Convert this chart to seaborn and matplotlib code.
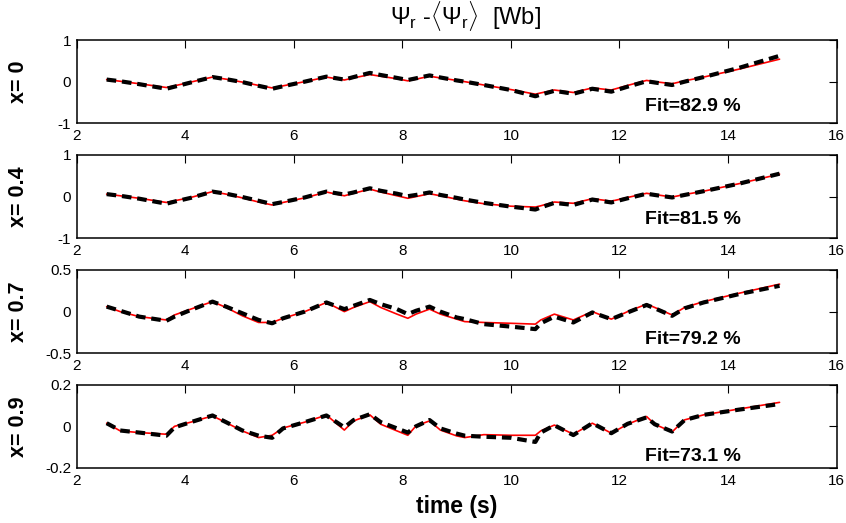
import matplotlib
matplotlib.use("Agg")
import matplotlib.pyplot as plt
import seaborn as sns
import pandas as pd

# ---------------- data ----------------
time = [2.55, 2.8, 3.15, 3.65, 3.8, 4.1, 4.5, 4.75, 5.05, 5.35, 5.6, 5.8, 6.2, 6.6,
        6.93, 7.1, 7.4, 7.6, 7.9, 8.1, 8.25, 8.5, 8.7, 9.0, 9.15, 9.5, 10.0, 10.45,
        10.55, 10.8, 11.15, 11.5, 11.85, 12.15, 12.5, 12.65, 12.97, 13.2, 13.55, 14.2, 14.95]

meas_x0 = [0.05, 0.01, -0.06, -0.17, -0.12, -0.02, 0.11, 0.06, -0.01, -0.10, -0.17, -0.11, 0.0, 0.12,
           0.05, 0.11, 0.21, 0.16, 0.09, 0.04, 0.08, 0.15, 0.10, 0.03, 0.0, -0.08, -0.20, -0.35,
           -0.31, -0.22, -0.29, -0.17, -0.24, -0.12, 0.01, -0.02, -0.08, 0.0, 0.11, 0.33, 0.62]
model_x0 = [0.05, 0.01, -0.05, -0.14, -0.10, -0.01, 0.11, 0.06, -0.01, -0.09, -0.15, -0.10, 0.0, 0.11,
            0.04, 0.09, 0.17, 0.13, 0.07, 0.02, 0.06, 0.13, 0.09, 0.03, 0.0, -0.08, -0.19, -0.30,
            -0.27, -0.20, -0.26, -0.15, -0.20, -0.09, 0.03, 0.0, -0.05, 0.02, 0.11, 0.30, 0.54]

meas_x04 = [0.06, 0.02, -0.05, -0.17, -0.12, -0.03, 0.12, 0.07, -0.01, -0.10, -0.18, -0.13, -0.02, 0.12,
            0.05, 0.10, 0.20, 0.14, 0.07, 0.01, 0.04, 0.10, 0.04, -0.03, -0.07, -0.15, -0.24, -0.31,
            -0.26, -0.15, -0.20, -0.07, -0.14, -0.04, 0.07, 0.04, -0.02, 0.04, 0.13, 0.31, 0.55]
model_x04 = [0.06, 0.02, -0.04, -0.14, -0.10, -0.02, 0.12, 0.06, -0.03, -0.13, -0.20, -0.14, -0.03, 0.11,
             0.02, 0.08, 0.18, 0.11, 0.02, -0.04, 0.0, 0.07, 0.02, -0.06, -0.10, -0.17, -0.23, -0.25,
             -0.22, -0.13, -0.16, -0.05, -0.11, -0.02, 0.08, 0.05, -0.01, 0.05, 0.13, 0.31, 0.54]

meas_x07 = [0.06, 0.01, -0.06, -0.11, -0.06, 0.02, 0.12, 0.06, -0.02, -0.10, -0.14, -0.08, 0.0, 0.11,
            0.03, 0.07, 0.14, 0.09, 0.03, -0.03, 0.01, 0.06, 0.0, -0.07, -0.09, -0.15, -0.18, -0.21,
            -0.14, -0.06, -0.13, -0.01, -0.09, -0.01, 0.08, 0.04, -0.05, 0.04, 0.11, 0.21, 0.31]
model_x07 = [0.06, 0.0, -0.06, -0.10, -0.04, 0.03, 0.12, 0.05, -0.05, -0.13, -0.13, -0.08, 0.0, 0.11,
             0.0, 0.05, 0.12, 0.05, -0.03, -0.08, -0.03, 0.03, -0.03, -0.09, -0.12, -0.13, -0.14, -0.15,
             -0.10, -0.03, -0.10, 0.0, -0.09, 0.0, 0.09, 0.05, -0.04, 0.05, 0.12, 0.22, 0.33]

meas_x09 = [0.015, -0.02, -0.03, -0.045, -0.005, 0.02, 0.052, 0.02, -0.02, -0.045, -0.055, -0.01, 0.02, 0.052,
            -0.005, 0.03, 0.058, 0.02, -0.01, -0.03, 0.0, 0.03, -0.01, -0.035, -0.045, -0.05, -0.055, -0.075,
            -0.03, 0.005, -0.042, 0.015, -0.033, 0.012, 0.043, 0.01, -0.025, 0.03, 0.055, 0.08, 0.107]
model_x09 = [0.015, -0.022, -0.03, -0.038, 0.0, 0.02, 0.05, 0.018, -0.022, -0.054, -0.043, -0.008, 0.02, 0.054,
             -0.018, 0.026, 0.055, 0.01, -0.022, -0.043, 0.002, 0.026, -0.018, -0.046, -0.054, -0.04, -0.043, -0.043,
             -0.022, 0.006, -0.038, 0.015, -0.033, 0.01, 0.047, 0.01, -0.027, 0.031, 0.055, 0.083, 0.115]

panel_labels = ["0", "0.4", "0.7", "0.9"]
fit_labels = ["Fit=82.9 %", "Fit=81.5 %", "Fit=79.2 %", "Fit=73.1 %"]
y_limits = [1, 1, 0.5, 0.2]
y_ticklabels = [["-1", "0", "1"], ["-1", "0", "1"], ["-0.5", "0", "0.5"], ["-0.2", "0", "0.2"]]
x_ticks = [2, 4, 6, 8, 10, 12, 14, 16]

measured = [meas_x0, meas_x04, meas_x07, meas_x09]
modeled = [model_x0, model_x04, model_x07, model_x09]

# ---------------- style ----------------
sns.set_style("white")
plt.rcParams["font.family"] = ["Liberation Sans", "DejaVu Sans"]
plt.rcParams["axes.unicode_minus"] = False
plt.rcParams["text.color"] = "black"
plt.rcParams["axes.labelcolor"] = "black"
plt.rcParams["xtick.color"] = "black"
plt.rcParams["ytick.color"] = "black"
plt.rcParams["mathtext.fontset"] = "custom"
plt.rcParams["mathtext.rm"] = "Liberation Sans"
plt.rcParams["mathtext.it"] = "Liberation Sans"
plt.rcParams["mathtext.bf"] = "Liberation Sans:bold"

fig = plt.figure(figsize=(8.46, 5.23), dpi=100)

left, width, height = 0.0908, 0.8980, 0.1593
bottoms = [0.7642, 0.5444, 0.3245, 0.1052]
fit_y = [0.20, 0.22, 0.17, 0.14]

for i in range(4):
    ax = fig.add_axes([left, bottoms[i], width, height])
    df = pd.DataFrame({"time": time, "model": modeled[i], "measured": measured[i]})
    sns.lineplot(data=df, x="time", y="model", ax=ax, color="#ff0000", linewidth=1.2, zorder=2)
    sns.lineplot(data=df, x="time", y="measured", ax=ax, color="black", linewidth=3.0,
                 zorder=3).lines[-1].set_dashes([2.3, 1.4])
    lim = y_limits[i]
    ax.set_xlim(2, 16)
    ax.set_ylim(-lim, lim)
    ax.set_xticks(x_ticks)
    ax.set_xticklabels([str(v) for v in x_ticks])
    ax.set_yticks([-lim, 0, lim])
    ax.set_yticklabels(y_ticklabels[i])
    ax.set_xlabel("")
    ax.set_ylabel("")
    ax.tick_params(direction="in", length=5.5, width=0.8, top=True, right=True,
                   labelsize=11, colors="black", pad=4)
    for sp in ax.spines.values():
        sp.set_visible(True)
        sp.set_color("black")
        sp.set_linewidth(1.1)
    ax.text(0.748, fit_y[i], fit_labels[i], transform=ax.transAxes, fontsize=14,
            fontweight="bold", ha="left", va="center", color="black")
    yc = bottoms[i] + height / 2
    fig.text(0.022, yc, "x= " + panel_labels[i], rotation=90, ha="center", va="center",
             fontsize=15.5, fontweight="bold", color="black")

fig.text(0.55, 1 - 16 / 523, r"$\Psi_r$ -$\langle\Psi_r\rangle$  [Wb]", ha="center",
         va="center", fontsize=17, color="black")
fig.text(0.54, 1 - 506 / 523, "time (s)", ha="center", va="center", fontsize=16.5,
         fontweight="bold", color="black")

fig.savefig("out.png", dpi=100)
